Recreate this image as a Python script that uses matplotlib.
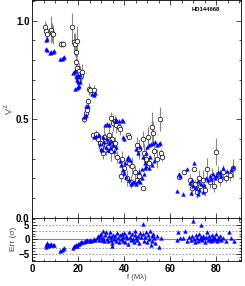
import numpy as np
import matplotlib
matplotlib.use("Agg")
import matplotlib.pyplot as plt
from matplotlib.ticker import MultipleLocator

plt.rcParams['font.family'] = ['Liberation Sans', 'DejaVu Sans']

# observed V2 (open circles) : frequency, value, error
f_obs = [5.5, 6.0, 6.5, 8.0, 8.5, 9.0,
         12.3, 13.3,
         17.1, 18.0, 18.5, 19.3, 19.0, 19.0, 19.5, 20.2, 20.8, 21.5, 20.0, 21.0,
         24.5, 25.2, 26.8, 24.0, 23.3, 23.8, 22.5,
         26.3, 27.5, 28.5, 29.5, 30.0, 30.7, 31.0, 31.5, 32.2, 33.0, 33.5, 34.0, 34.5, 35.5, 36.0,
         34.4, 35.0, 36.5, 37.5, 38.0, 36.0, 41.5, 41.8,
         37.0, 39.0, 38.4, 41.0, 40.0, 42.0, 43.5, 44.5, 45.5, 46.5, 47.9, 43.0,
         45.5, 46.3, 47.9, 48.5, 49.5, 50.3, 51.8, 52.5, 53.0, 54.0, 55.4, 56.1, 56.2, 50.5,
         63.8, 66.0, 70.2, 68.5, 69.5, 70.5, 71.5, 72.3, 73.0, 74.0, 75.0, 76.0, 77.0, 78.0,
         79.0, 79.7, 80.5, 81.5, 83.0, 84.0, 86.0, 87.0]
v2_obs = [0.97, 0.95, 0.93, 0.955, 0.94, 0.93,
          0.88, 0.88,
          0.966, 0.89, 0.88, 0.895, 0.84, 0.79, 0.76, 0.745, 0.73, 0.74, 0.70, 0.72,
          0.655, 0.65, 0.65, 0.59, 0.53, 0.545, 0.50,
          0.42, 0.425, 0.40, 0.38, 0.36, 0.33, 0.41, 0.39, 0.37, 0.36, 0.42, 0.34, 0.40, 0.35, 0.38,
          0.505, 0.48, 0.47, 0.46, 0.45, 0.49, 0.42, 0.41,
          0.31, 0.30, 0.21, 0.20, 0.25, 0.28, 0.26, 0.23, 0.19, 0.21, 0.15, 0.18,
          0.37, 0.35, 0.40, 0.33, 0.30, 0.41, 0.46, 0.43, 0.34, 0.30, 0.50, 0.33, 0.31, 0.28,
          0.205, 0.23, 0.247, 0.19, 0.15, 0.17, 0.13, 0.20, 0.16, 0.19, 0.14, 0.245, 0.18, 0.21,
          0.16, 0.335, 0.22, 0.19, 0.23, 0.20, 0.215, 0.25]
v2_err = [0.03, 0.04, 0.03, 0.07, 0.05, 0.05,
          0.015, 0.015,
          0.075, 0.05, 0.06, 0.08, 0.06, 0.05, 0.05, 0.04, 0.04, 0.04, 0.03, 0.03,
          0.03, 0.02, 0.025, 0.02, 0.02, 0.03, 0.02,
          0.01, 0.02, 0.03, 0.04, 0.03, 0.03, 0.05, 0.04, 0.05, 0.03, 0.06, 0.05, 0.04, 0.04, 0.03,
          0.03, 0.04, 0.04, 0.02, 0.03, 0.03, 0.01, 0.01,
          0.03, 0.04, 0.03, 0.04, 0.04, 0.03, 0.05, 0.03, 0.03, 0.04, 0.01, 0.03,
          0.04, 0.05, 0.04, 0.05, 0.06, 0.05, 0.075, 0.06, 0.04, 0.05, 0.06, 0.02, 0.02, 0.04,
          0.01, 0.01, 0.01, 0.03, 0.04, 0.02, 0.03, 0.04, 0.03, 0.05, 0.03, 0.06, 0.03, 0.04,
          0.03, 0.07, 0.04, 0.03, 0.04, 0.02, 0.03, 0.05]

# model V2 (blue triangles)
f_mod = [5.8, 6.2, 6.0, 6.4, 7.8, 8.3, 8.8, 9.3,
         12.2, 12.7, 13.2, 13.7,
         17.5, 18.0, 18.5, 19.0, 19.5, 20.0, 20.5, 19.3, 19.8, 18.7, 19.2, 19.8, 20.3, 20.6,
         23.3, 24.0, 22.3, 22.8, 23.2, 26.0, 26.7, 27.4,
         26.8, 27.6, 28.8, 29.3, 29.8, 30.3, 31.0, 31.8, 32.3, 32.8, 33.2, 33.8, 34.4, 35.0,
         35.6, 36.2, 30.5, 31.5, 32.5, 33.5,
         35.8, 36.5, 37.5, 38.8, 39.2, 39.5, 40.0,
         38.0, 38.7, 39.3, 39.8, 40.3, 41.0, 41.7, 42.3, 43.0, 43.5, 44.3, 45.0, 46.0, 47.0,
         47.5, 46.5, 47.8, 48.5, 49.0, 40.5, 42.0,
         45.0, 46.0, 47.0, 48.0, 48.8, 49.5, 50.0, 50.8, 51.5, 52.3, 53.2, 54.2, 55.0, 55.6,
         51.0, 52.0, 53.0, 49.5, 50.5,
         63.0, 63.6, 64.0, 65.3, 67.0, 70.2, 68.5, 69.3, 70.0, 71.0, 71.8, 72.5, 73.2, 74.0,
         74.8, 75.5, 76.3, 77.0, 77.8, 78.5, 79.2, 80.0, 80.7, 81.4, 82.0, 83.0, 84.5, 86.5,
         87.0, 69.0, 72.0]
v2_mod = [0.90, 0.905, 0.855, 0.85, 0.838, 0.84, 0.842, 0.845,
          0.803, 0.806, 0.81, 0.815,
          0.737, 0.74, 0.745, 0.72, 0.715, 0.72, 0.722, 0.70, 0.69, 0.655, 0.66, 0.665, 0.67, 0.69,
          0.565, 0.567, 0.51, 0.515, 0.52, 0.63, 0.625, 0.632,
          0.41, 0.415, 0.42, 0.375, 0.35, 0.345, 0.385, 0.36, 0.40, 0.345, 0.38, 0.355, 0.39, 0.37,
          0.34, 0.36, 0.41, 0.47, 0.475, 0.47,
          0.49, 0.495, 0.49, 0.497, 0.49, 0.41, 0.40,
          0.29, 0.265, 0.24, 0.225, 0.28, 0.30, 0.31, 0.295, 0.17, 0.175, 0.18, 0.17, 0.185, 0.18,
          0.20, 0.23, 0.245, 0.22, 0.25, 0.205, 0.19,
          0.35, 0.33, 0.36, 0.31, 0.28, 0.33, 0.36, 0.37, 0.375, 0.38, 0.385, 0.37, 0.375, 0.38,
          0.31, 0.27, 0.29, 0.26, 0.25,
          0.135, 0.22, 0.212, 0.12, 0.247, 0.28, 0.175, 0.19, 0.16, 0.15, 0.185, 0.14, 0.17, 0.13,
          0.165, 0.20, 0.19, 0.21, 0.195, 0.22, 0.20, 0.21, 0.225, 0.23, 0.21, 0.25, 0.235, 0.24,
          0.255, 0.125, 0.12]

# residuals (bottom panel)
f_res = [5.8, 6.2, 6.6, 7.2, 7.8, 8.3, 8.8, 9.3, 6.0,
         12.2, 12.7, 13.2, 13.7,
         17.5, 18.0, 18.5, 19.0, 19.3, 19.7, 20.2, 20.7, 21.2, 21.7, 22.3, 22.8, 23.3, 23.8,
         24.5, 25.0, 25.6, 26.2, 26.8, 27.4, 28.0,
         28.5, 29.0, 29.5, 30.0, 30.5, 30.8, 31.2, 31.6, 32.0, 32.4, 32.8, 33.2, 33.6, 34.0,
         34.4, 34.8, 35.2, 35.6, 36.0, 36.4, 36.8, 37.2, 37.6, 38.0, 38.4, 38.8, 39.2, 39.6,
         40.0, 40.4, 40.8, 41.2, 41.6, 42.0, 42.4, 42.8, 43.2, 43.6, 44.0, 44.4, 44.8, 45.2,
         45.6, 46.0, 46.4, 46.8, 47.2, 47.9, 48.2, 48.6, 49.0, 49.4, 49.8, 50.2, 50.6, 51.0,
         51.4, 51.8, 52.2, 52.6, 53.0, 53.5, 54.0, 55.0, 56.0, 34.6, 30.2, 29.2,
         63.5, 63.0, 64.0, 65.3, 66.4, 67.0, 68.2, 69.0, 69.5, 69.9, 70.3, 70.7, 71.1, 71.5,
         71.9, 72.3, 72.7, 73.1, 73.5, 73.9, 74.3, 74.7, 75.1, 75.5, 75.9, 76.3, 76.7, 77.1,
         77.5, 77.9, 78.3, 78.7, 79.1, 79.5, 79.9, 80.3, 80.7, 81.1, 81.5, 82.0, 83.0, 84.0,
         85.5, 86.5, 87.5]
res = [-2.0, -1.4, -2.2, -1.8, -2.0, -1.7, -1.9, -1.8, -2.5,
       -3.9, -3.6, -3.3, -3.1,
       -3.0, -2.4, -2.2, -1.8, -2.3, -1.6, -1.5, -1.2, -1.0, -0.8, -0.9, -0.6, -0.5, -0.3,
       -0.6, -0.2, -0.4, -0.3, 0.0, -0.2, 0.5,
       1.2, -0.1, 0.8, 2.0, 0.3, 2.8, -0.5, 1.5, 2.5, 0.2, -0.6, 1.0, 2.4, -0.2,
       0.9, -1.2, 1.6, 0.1, 1.1, -0.4, 2.2, 0.6, -1.0, 1.4, 0.0, 1.8, -0.6, 0.9,
       2.1, -0.8, 1.2, 0.4, -1.5, 2.6, 0.8, -0.3, 1.9, 0.2, -0.9, 1.5, 2.9, 0.5,
       -0.1, 1.3, -1.3, 2.2, 0.7, 5.2, 1.8, -0.5, 0.9, 2.4, -1.0, 1.6, 0.1, 2.8,
       -1.8, 1.0, -0.7, 2.0, 0.3, -1.4, 1.2, -2.6, 0.6, -2.3, -0.3, 1.6,
       2.7, -0.3, 0.3, 0.6, 3.0, -0.6, 0.8, -0.2, 1.1, 6.3, 0.2, -0.8, 1.4, 0.4,
       -0.4, 1.9, 0.0, 0.7, 4.9, -0.2, 1.2, 0.3, -0.9, 0.8, 2.6, -0.1, 1.0, 0.2,
       -0.6, 1.5, 0.4, -0.3, 0.9, 0.1, 2.0, -0.5, 0.6, 0.0, 1.3, -0.2, 0.4, -0.6,
       2.5, 0.3, -0.4]

fig = plt.figure(figsize=(2.45, 2.86), dpi=100)
ax = fig.add_axes([0.132, 0.2388, 0.85, 0.7612])
ax2 = fig.add_axes([0.132, 0.0874, 0.85, 0.1514], sharex=ax)

ax.errorbar(f_obs, v2_obs, yerr=v2_err, fmt='none', ecolor='#888888', elinewidth=0.8, capsize=0, zorder=1)
ax.plot(f_obs, v2_obs, 'o', ms=3.3, mfc='white', mec='black', mew=0.5, zorder=2)
ax.plot(f_mod, v2_mod, '^', ms=2.7, color='#0000ff', mec='#0000ff', mew=0.3, zorder=3)
ax.set_xlim(0, 90.5)
ax.set_ylim(0, 1.105)
ax.yaxis.set_major_locator(MultipleLocator(0.5))
ax.yaxis.set_minor_locator(MultipleLocator(0.1))
ax.set_ylabel('V$^2$', fontsize=6.5, color='#444444', labelpad=1)
ax.text(0.90, 0.968, 'HD144668', transform=ax.transAxes, fontsize=4.2, fontweight='bold', ha='right', va='top')
plt.setp(ax.get_xticklabels(), visible=False)

ax2.axhline(0, color='#888888', lw=0.8, zorder=1)
for lev in [-5, -3, 3, 5]:
    ax2.axhline(lev, color='#888888', lw=0.6, ls=(0, (2, 2)), zorder=1)
ax2.plot(f_res, res, '^', ms=2.7, color='#0000ff', mec='#0000ff', mew=0.3, zorder=3)
ax2.set_ylim(-7.5, 7.5)
ax2.yaxis.set_major_locator(MultipleLocator(5))
ax2.yaxis.set_minor_locator(MultipleLocator(1))
ax2.xaxis.set_major_locator(MultipleLocator(20))
ax2.xaxis.set_minor_locator(MultipleLocator(5))
ax2.set_ylabel('Err (σ)', fontsize=6, color='#444444', labelpad=1)
ax2.set_xlabel('f (Mλ)', fontsize=5.5, color='#444444', labelpad=0)

for a in (ax, ax2):
    a.tick_params(which='both', direction='in', top=True, right=True, labelsize=7, pad=2)
    a.tick_params(which='major', length=3.5, width=0.5)
    a.tick_params(which='minor', length=1.8, width=0.5)
    for s in a.spines.values():
        s.set_linewidth(0.6)
    for lab in a.get_yticklabels() + a.get_xticklabels():
        lab.set_fontweight('bold')

fig.savefig('out.png', dpi=100)
